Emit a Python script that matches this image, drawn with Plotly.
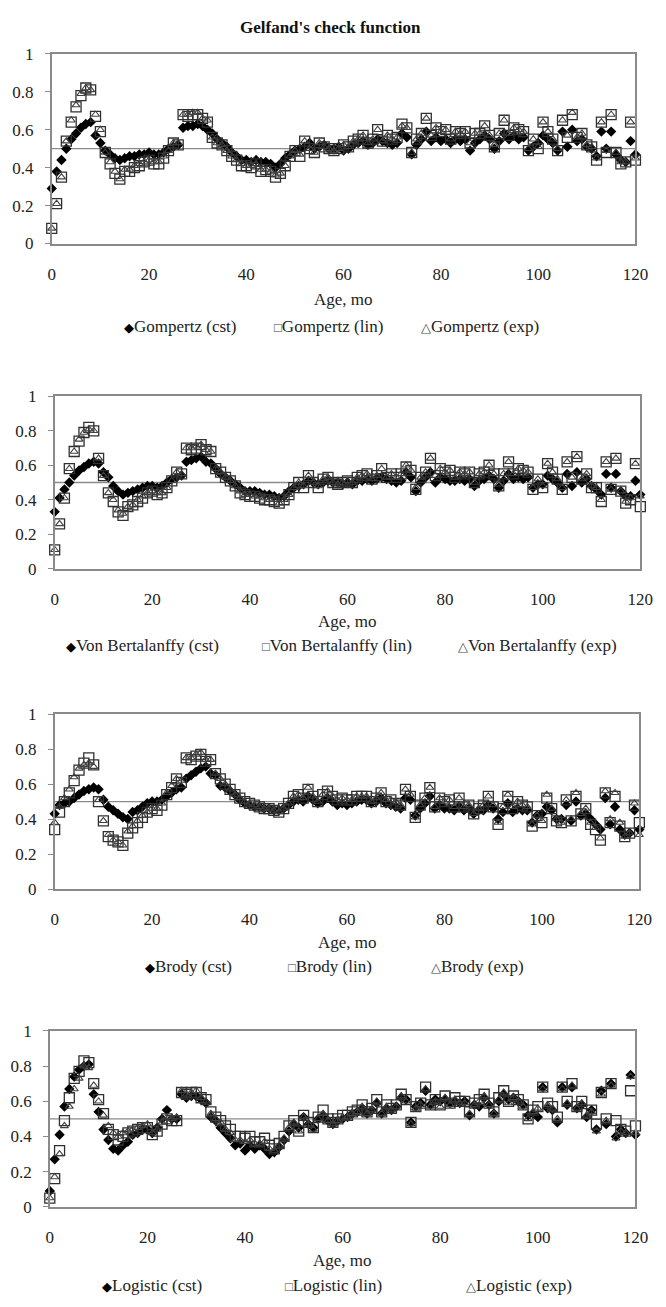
import plotly.graph_objects as go

age = list(range(0, 121))
x_ticks = [0, 20, 40, 60, 80, 100, 120]
y_ticks = [0, 0.2, 0.4, 0.6, 0.8, 1]
y_tick_text = ["0", "0.2", "0.4", "0.6", "0.8", "1"]

title = "Gelfand's check function"
x_title = "Age, mo"
models = ["Gompertz", "Von Bertalanffy", "Brody", "Logistic"]
variants = ["cst", "lin", "exp"]

gompertz_cst = [0.29,0.38,0.44,0.50,0.55,0.58,0.61,0.63,0.64,0.57,
 0.53,0.49,0.47,0.45,0.44,0.45,0.46,0.46,0.47,0.47,
 0.48,0.47,0.47,0.48,0.50,0.51,0.52,0.61,0.62,0.62,
 0.63,0.62,0.60,0.58,0.55,0.53,0.51,0.48,0.46,0.44,
 0.44,0.43,0.44,0.43,0.43,0.42,0.40,0.42,0.45,0.47,
 0.49,0.50,0.51,0.53,0.50,0.51,0.52,0.50,0.50,0.51,
 0.49,0.50,0.52,0.53,0.54,0.52,0.53,0.55,0.54,0.53,
 0.52,0.53,0.58,0.56,0.47,0.52,0.55,0.59,0.54,0.56,
 0.54,0.55,0.53,0.55,0.54,0.55,0.49,0.53,0.55,0.57,
 0.55,0.50,0.54,0.58,0.55,0.57,0.55,0.56,0.49,0.51,
 0.53,0.57,0.55,0.53,0.49,0.59,0.51,0.60,0.54,0.55,
 0.51,0.50,0.46,0.59,0.50,0.59,0.47,0.44,0.43,0.54,
 0.47]
gompertz_lin = [0.08,0.21,0.35,0.54,0.64,0.72,0.78,0.82,0.81,0.67,
 0.59,0.48,0.42,0.37,0.34,0.38,0.38,0.40,0.41,0.43,
 0.44,0.42,0.42,0.45,0.49,0.53,0.52,0.68,0.67,0.68,
 0.68,0.66,0.64,0.56,0.53,0.52,0.49,0.46,0.44,0.41,
 0.41,0.40,0.42,0.38,0.39,0.38,0.35,0.37,0.41,0.46,
 0.49,0.46,0.54,0.50,0.48,0.53,0.51,0.50,0.49,0.50,
 0.52,0.51,0.54,0.55,0.57,0.53,0.55,0.60,0.54,0.57,
 0.55,0.56,0.63,0.61,0.48,0.55,0.58,0.66,0.57,0.61,
 0.59,0.60,0.55,0.59,0.58,0.59,0.53,0.58,0.58,0.62,
 0.57,0.51,0.58,0.65,0.57,0.61,0.60,0.59,0.49,0.55,
 0.50,0.64,0.59,0.55,0.49,0.65,0.56,0.68,0.56,0.58,
 0.52,0.51,0.44,0.64,0.48,0.68,0.48,0.42,0.43,0.64,
 0.44]
gompertz_exp = [0.08,0.21,0.35,0.54,0.65,0.73,0.79,0.82,0.81,0.68,
 0.60,0.48,0.43,0.38,0.34,0.39,0.39,0.41,0.42,0.43,
 0.44,0.43,0.43,0.46,0.49,0.53,0.53,0.68,0.68,0.69,
 0.69,0.66,0.65,0.56,0.53,0.52,0.49,0.46,0.44,0.42,
 0.41,0.41,0.42,0.39,0.39,0.38,0.36,0.37,0.41,0.46,
 0.49,0.47,0.54,0.50,0.48,0.53,0.51,0.50,0.49,0.50,
 0.52,0.51,0.54,0.55,0.57,0.53,0.55,0.60,0.54,0.57,
 0.55,0.56,0.62,0.61,0.48,0.55,0.58,0.66,0.57,0.61,
 0.59,0.60,0.55,0.59,0.58,0.59,0.53,0.58,0.58,0.62,
 0.57,0.52,0.58,0.65,0.58,0.61,0.60,0.59,0.50,0.55,
 0.51,0.64,0.59,0.55,0.50,0.65,0.57,0.69,0.56,0.58,
 0.52,0.51,0.45,0.64,0.49,0.68,0.48,0.43,0.43,0.64,
 0.45]

bertalanffy_cst = [0.33,0.41,0.46,0.50,0.54,0.57,0.59,0.61,0.62,0.61,
 0.56,0.53,0.48,0.45,0.43,0.44,0.45,0.46,0.47,0.48,
 0.48,0.47,0.48,0.50,0.52,0.53,0.54,0.62,0.63,0.64,
 0.65,0.62,0.61,0.58,0.55,0.53,0.51,0.49,0.47,0.45,
 0.45,0.45,0.44,0.43,0.43,0.42,0.41,0.42,0.45,0.47,
 0.48,0.49,0.51,0.50,0.49,0.50,0.51,0.50,0.50,0.49,
 0.50,0.49,0.51,0.51,0.52,0.51,0.52,0.53,0.52,0.51,
 0.50,0.51,0.56,0.53,0.45,0.50,0.53,0.56,0.50,0.53,
 0.52,0.51,0.51,0.52,0.51,0.52,0.48,0.51,0.52,0.54,
 0.52,0.47,0.51,0.55,0.52,0.53,0.52,0.53,0.47,0.49,
 0.49,0.54,0.52,0.50,0.47,0.55,0.48,0.56,0.50,0.52,
 0.48,0.46,0.43,0.55,0.47,0.55,0.45,0.42,0.42,0.51,
 0.43]
bertalanffy_lin = [0.11,0.26,0.41,0.58,0.68,0.74,0.79,0.82,0.80,0.64,
 0.54,0.44,0.39,0.33,0.31,0.36,0.37,0.39,0.41,0.44,
 0.45,0.43,0.44,0.47,0.51,0.56,0.55,0.70,0.69,0.70,
 0.72,0.69,0.68,0.58,0.56,0.53,0.51,0.48,0.44,0.43,
 0.42,0.42,0.41,0.40,0.40,0.39,0.38,0.40,0.43,0.47,
 0.50,0.47,0.54,0.50,0.47,0.52,0.53,0.50,0.49,0.50,
 0.51,0.50,0.53,0.54,0.55,0.52,0.54,0.58,0.53,0.55,
 0.53,0.55,0.59,0.57,0.46,0.53,0.56,0.64,0.54,0.58,
 0.56,0.57,0.53,0.56,0.55,0.56,0.50,0.55,0.56,0.60,
 0.55,0.48,0.55,0.62,0.55,0.58,0.57,0.56,0.46,0.52,
 0.47,0.61,0.56,0.52,0.46,0.62,0.53,0.65,0.52,0.55,
 0.47,0.47,0.39,0.62,0.46,0.64,0.45,0.38,0.40,0.61,
 0.36]
bertalanffy_exp = [0.11,0.26,0.41,0.58,0.68,0.75,0.79,0.81,0.80,0.64,
 0.54,0.44,0.40,0.34,0.32,0.36,0.37,0.40,0.42,0.44,
 0.45,0.44,0.44,0.47,0.51,0.56,0.55,0.70,0.70,0.71,
 0.72,0.69,0.68,0.58,0.56,0.53,0.51,0.48,0.45,0.43,
 0.43,0.42,0.42,0.41,0.40,0.40,0.38,0.40,0.43,0.47,
 0.50,0.48,0.54,0.50,0.48,0.52,0.53,0.50,0.49,0.50,
 0.51,0.50,0.53,0.54,0.55,0.52,0.54,0.58,0.53,0.55,
 0.53,0.55,0.60,0.57,0.47,0.53,0.56,0.64,0.54,0.58,
 0.56,0.57,0.53,0.56,0.55,0.56,0.50,0.55,0.56,0.60,
 0.55,0.49,0.55,0.62,0.55,0.58,0.57,0.56,0.47,0.52,
 0.48,0.61,0.56,0.52,0.47,0.62,0.53,0.65,0.52,0.55,
 0.48,0.47,0.40,0.62,0.46,0.64,0.45,0.39,0.41,0.61,
 0.42]

brody_cst = [0.43,0.48,0.49,0.50,0.52,0.54,0.56,0.57,0.58,0.57,
 0.51,0.47,0.45,0.43,0.41,0.40,0.44,0.45,0.47,0.49,
 0.50,0.50,0.51,0.53,0.55,0.57,0.58,0.63,0.65,0.67,
 0.69,0.70,0.66,0.65,0.59,0.58,0.56,0.54,0.51,0.49,
 0.48,0.47,0.47,0.46,0.46,0.45,0.45,0.46,0.48,0.50,
 0.51,0.50,0.53,0.51,0.49,0.50,0.52,0.50,0.48,0.49,
 0.48,0.49,0.50,0.51,0.51,0.49,0.50,0.52,0.49,0.48,
 0.47,0.46,0.52,0.51,0.42,0.46,0.49,0.53,0.46,0.48,
 0.46,0.46,0.45,0.47,0.45,0.46,0.43,0.45,0.45,0.48,
 0.46,0.40,0.44,0.49,0.44,0.46,0.45,0.45,0.38,0.42,
 0.43,0.47,0.45,0.40,0.40,0.48,0.39,0.50,0.42,0.43,
 0.40,0.37,0.34,0.52,0.37,0.47,0.34,0.31,0.32,0.45,
 0.34]
brody_lin = [0.34,0.44,0.50,0.55,0.62,0.68,0.72,0.75,0.71,0.50,
 0.39,0.30,0.28,0.27,0.25,0.32,0.35,0.38,0.41,0.44,
 0.46,0.45,0.48,0.54,0.58,0.63,0.61,0.75,0.74,0.76,
 0.77,0.73,0.74,0.66,0.63,0.60,0.57,0.54,0.52,0.50,
 0.49,0.48,0.47,0.46,0.46,0.45,0.44,0.46,0.49,0.53,
 0.54,0.52,0.57,0.53,0.50,0.54,0.56,0.53,0.51,0.52,
 0.51,0.51,0.53,0.53,0.53,0.50,0.52,0.55,0.50,0.51,
 0.49,0.48,0.57,0.53,0.41,0.48,0.52,0.58,0.47,0.52,
 0.50,0.51,0.47,0.52,0.47,0.48,0.43,0.46,0.48,0.53,
 0.47,0.37,0.46,0.53,0.46,0.50,0.48,0.47,0.36,0.42,
 0.38,0.52,0.46,0.39,0.38,0.51,0.39,0.53,0.43,0.46,
 0.37,0.34,0.28,0.55,0.38,0.53,0.36,0.30,0.32,0.48,
 0.38]
brody_exp = [0.38,0.47,0.52,0.57,0.64,0.69,0.71,0.72,0.70,0.51,
 0.39,0.31,0.28,0.27,0.25,0.33,0.36,0.39,0.42,0.44,
 0.46,0.46,0.49,0.55,0.59,0.63,0.62,0.75,0.75,0.77,
 0.78,0.74,0.74,0.66,0.63,0.60,0.57,0.54,0.52,0.50,
 0.49,0.48,0.47,0.46,0.46,0.45,0.44,0.46,0.49,0.53,
 0.54,0.52,0.58,0.53,0.50,0.54,0.56,0.53,0.51,0.52,
 0.51,0.51,0.53,0.53,0.53,0.50,0.52,0.55,0.51,0.51,
 0.50,0.48,0.57,0.54,0.41,0.48,0.52,0.58,0.47,0.52,
 0.50,0.51,0.47,0.52,0.47,0.48,0.43,0.46,0.48,0.53,
 0.48,0.38,0.47,0.54,0.47,0.50,0.48,0.47,0.37,0.42,
 0.39,0.54,0.46,0.40,0.38,0.51,0.40,0.55,0.43,0.46,
 0.38,0.35,0.29,0.56,0.40,0.55,0.38,0.30,0.32,0.49,
 0.31]

logistic_cst = [0.09,0.27,0.41,0.57,0.67,0.74,0.78,0.80,0.81,0.64,
 0.54,0.44,0.38,0.33,0.32,0.35,0.37,0.41,0.42,0.44,
 0.44,0.42,0.45,0.50,0.55,0.50,0.50,0.64,0.62,0.63,
 0.63,0.61,0.59,0.51,0.49,0.45,0.42,0.39,0.35,0.36,
 0.32,0.35,0.33,0.35,0.33,0.30,0.31,0.34,0.38,0.43,
 0.47,0.45,0.51,0.47,0.45,0.50,0.52,0.49,0.47,0.49,
 0.50,0.51,0.53,0.54,0.56,0.53,0.55,0.59,0.53,0.56,
 0.55,0.57,0.62,0.61,0.48,0.57,0.59,0.66,0.58,0.61,
 0.60,0.61,0.59,0.60,0.59,0.60,0.52,0.58,0.57,0.62,
 0.58,0.53,0.60,0.64,0.61,0.62,0.60,0.58,0.52,0.53,
 0.51,0.68,0.56,0.55,0.48,0.68,0.58,0.68,0.56,0.58,
 0.51,0.55,0.44,0.66,0.47,0.70,0.40,0.44,0.42,0.75,
 0.41]
logistic_lin = [0.05,0.16,0.32,0.49,0.62,0.73,0.77,0.83,0.82,0.70,
 0.61,0.53,0.44,0.41,0.38,0.40,0.42,0.43,0.44,0.45,
 0.45,0.41,0.43,0.47,0.50,0.49,0.49,0.65,0.64,0.65,
 0.65,0.62,0.61,0.54,0.51,0.49,0.46,0.44,0.40,0.40,
 0.39,0.40,0.37,0.37,0.39,0.35,0.33,0.36,0.40,0.46,
 0.49,0.43,0.52,0.48,0.45,0.51,0.55,0.50,0.48,0.50,
 0.52,0.52,0.54,0.55,0.58,0.54,0.56,0.61,0.54,0.58,
 0.56,0.58,0.64,0.61,0.48,0.57,0.59,0.68,0.58,0.61,
 0.58,0.63,0.59,0.62,0.60,0.60,0.54,0.59,0.61,0.64,
 0.59,0.54,0.62,0.66,0.60,0.63,0.61,0.58,0.50,0.55,
 0.57,0.68,0.59,0.57,0.51,0.68,0.60,0.70,0.57,0.60,
 0.53,0.55,0.47,0.65,0.50,0.70,0.49,0.44,0.43,0.66,
 0.46]
logistic_exp = [0.05,0.17,0.30,0.46,0.57,0.67,0.73,0.80,0.79,0.69,
 0.60,0.52,0.46,0.42,0.40,0.42,0.43,0.44,0.45,0.46,
 0.47,0.42,0.44,0.48,0.51,0.50,0.51,0.66,0.64,0.65,
 0.66,0.62,0.60,0.53,0.50,0.48,0.44,0.42,0.38,0.38,
 0.37,0.38,0.36,0.36,0.37,0.33,0.32,0.35,0.39,0.45,
 0.48,0.43,0.51,0.47,0.44,0.50,0.53,0.49,0.47,0.49,
 0.51,0.51,0.53,0.54,0.57,0.53,0.55,0.60,0.53,0.57,
 0.55,0.57,0.63,0.60,0.47,0.56,0.58,0.67,0.57,0.60,
 0.57,0.62,0.58,0.61,0.59,0.59,0.53,0.58,0.60,0.63,
 0.58,0.53,0.61,0.65,0.59,0.62,0.60,0.57,0.50,0.54,
 0.56,0.67,0.58,0.56,0.50,0.67,0.59,0.69,0.56,0.59,
 0.52,0.54,0.43,0.64,0.49,0.69,0.39,0.43,0.42,0.74,
 0.42]

panel_series = [
    (gompertz_cst, gompertz_lin, gompertz_exp),
    (bertalanffy_cst, bertalanffy_lin, bertalanffy_exp),
    (brody_cst, brody_lin, brody_exp),
    (logistic_cst, logistic_lin, logistic_exp),
]

# ---- layout geometry (pixels) ----
W, H = 666, 1307
FONT = "Liberation Serif, Times New Roman, serif"
GRAY = "#8a8a8a"
# plot areas: (left, right, top, bottom)
boxes = [(49, 648, 45.5, 238), (52, 653, 393, 568), (52, 652, 715.5, 893), (47, 648, 1037, 1215.5)]
age_label_y = [295, 622, 947, 1270]
legend_y = [322, 646, 972, 1295]
legend_x = [(121, 275, 426), (62, 263, 464), (143, 289, 436), (99, 286, 472)]

def px(x):
    return x / W

def py(y):
    return 1 - y / H

fig = go.Figure()
styles = [
    dict(symbol="diamond", size=8, color="#000000", line=dict(width=0)),
    dict(symbol="square-open", size=10, color="#303030", line=dict(width=1.3)),
    dict(symbol="triangle-up-open", size=7, color="#404040", line=dict(width=1.1)),
]

annotations = []
shapes = []
for i, (series, (l, r, t, b)) in enumerate(zip(panel_series, boxes)):
    n = "" if i == 0 else str(i + 1)
    xa, ya = "x" + n, "y" + n
    for v, vals in enumerate(series):
        fig.add_trace(go.Scatter(
            x=age, y=vals, mode="markers", xaxis=xa, yaxis=ya,
            name=f"{models[i]} ({variants[v]})", marker=styles[v],
            cliponaxis=False, showlegend=False))
    common = dict(showline=True, linecolor=GRAY, linewidth=1.5, mirror=True,
                  showgrid=False, zeroline=False,
                  tickfont=dict(family=FONT, size=17, color="#222"))
    fig.layout["xaxis" + n] = dict(
        domain=[px(l), px(r)], anchor=ya, range=[0, 120], tickvals=x_ticks,
        ticks="", ticklabelstandoff=14, **common)
    fig.layout["yaxis" + n] = dict(
        domain=[py(b), py(t)], anchor=xa, range=[0, 1], tickvals=y_ticks,
        ticktext=y_tick_text, ticks="outside", ticklen=5, tickcolor=GRAY,
        tickwidth=1.3, ticklabelstandoff=8, **common)
    shapes.append(dict(type="line", xref=xa + " domain", yref=ya, x0=0, x1=1,
                       y0=0.5, y1=0.5, line=dict(color=GRAY, width=1.3), layer="below"))
    annotations.append(dict(text=x_title, x=(px(l) + px(r)) / 2, y=py(age_label_y[i]),
                            xref="paper", yref="paper", showarrow=False,
                            xanchor="center", yanchor="middle",
                            font=dict(family=FONT, size=17, color="#222")))
    syms = ["◆", "□", "△"]
    for v in range(3):
        sym_color = "#000" if v == 0 else "#444"
        txt = (f'<span style="font-size:13px;color:{sym_color}">{syms[v]}</span>'
               f'{models[i]} ({variants[v]})')
        annotations.append(dict(text=txt, x=px(legend_x[i][v]), y=py(legend_y[i]),
                                xref="paper", yref="paper", showarrow=False,
                                xanchor="left", yanchor="middle",
                                font=dict(family=FONT, size=17, color="#222")))

annotations.append(dict(text="<b>" + title + "</b>", x=px(335), y=py(19), xref="paper",
                        yref="paper", showarrow=False, xanchor="center", yanchor="middle",
                        font=dict(family=FONT, size=17, color="#111")))

fig.update_layout(width=W, height=H, margin=dict(l=0, r=0, t=0, b=0),
                  paper_bgcolor="white", plot_bgcolor="white",
                  annotations=annotations, shapes=shapes, showlegend=False)

fig.write_html("out.html")
